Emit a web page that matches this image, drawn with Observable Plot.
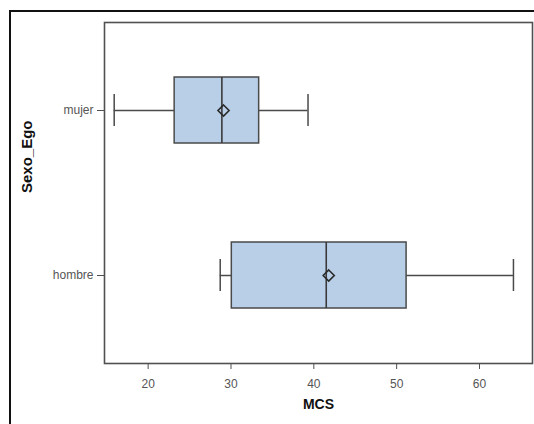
<!DOCTYPE html>
<html>
<head>
<meta charset="utf-8">
<script src="https://cdn.jsdelivr.net/npm/d3@7"></script>
<script src="https://cdn.jsdelivr.net/npm/@observablehq/plot@0.6"></script>
<style>
  html, body { margin: 0; padding: 0; background: #fff; overflow: hidden; }
  #wrap { position: relative; width: 534px; height: 424px; overflow: hidden; }
  #border { position: absolute; left: 9px; top: 10px; width: 700px; height: 700px;
            border-left: 2.5px solid #111; border-top: 2.5px solid #111; pointer-events: none; }
  #chart { position: absolute; left: 0; top: 0; }
  svg { font-family: "Liberation Sans", Arial, sans-serif; }
</style>
</head>
<body>
<div id="wrap">
  <div id="chart"></div>
  <div id="border"></div>
</div>
<script>
const categories = ["mujer", "hombre"];
const whiskerLow = [15.9, 28.7];
const q1 = [23.2, 30.1];
const median = [28.9, 41.5];
const mean = [29.1, 41.8];
const q3 = [33.4, 51.2];
const whiskerHigh = [39.3, 64.1];
const xTicks = [20, 30, 40, 50, 60];

const rows = categories.map((c, i) => ({
  cat: c, lo: whiskerLow[i], q1: q1[i], med: median[i], mean: mean[i], q3: q3[i], hi: whiskerHigh[i]
}));

const lineColor = "#4a4a4a";
const chart = Plot.plot({
  width: 534,
  height: 424,
  marginLeft: 104,
  marginRight: 2,
  marginTop: 22,
  marginBottom: 61,
  style: { fontFamily: "'Liberation Sans', Arial, sans-serif", fontSize: "12px", color: "#555", background: "transparent" },
  x: { domain: [14.73, 66.4], ticks: xTicks, label: null },
  y: { type: "band", domain: categories, paddingInner: 0.6, paddingOuter: 0.333, label: null },
  marks: [
    Plot.ruleY(rows, { y: "cat", x1: "lo", x2: "q1", stroke: lineColor, strokeWidth: 1.5 }),
    Plot.ruleY(rows, { y: "cat", x1: "q3", x2: "hi", stroke: lineColor, strokeWidth: 1.5 }),
    Plot.tickX(rows, { x: "lo", y: "cat", insetTop: 17, insetBottom: 17, stroke: lineColor, strokeWidth: 1.5 }),
    Plot.tickX(rows, { x: "hi", y: "cat", insetTop: 17, insetBottom: 17, stroke: lineColor, strokeWidth: 1.5 }),
    Plot.barX(rows, { y: "cat", x1: "q1", x2: "q3", fill: "#b9cfe8", stroke: lineColor, strokeWidth: 1.5 }),
    Plot.tickX(rows, { x: "med", y: "cat", stroke: "#3a3a3a", strokeWidth: 1.6 }),
    Plot.dot(rows, { x: "mean", y: "cat", symbol: "diamond2", r: 5, fill: "none", stroke: "#2a2a2a", strokeWidth: 1.6 }),
    Plot.frame({ stroke: "#505050", strokeWidth: 1.6 }),
    Plot.axisX({ ticks: xTicks, tickSize: 6, tickPadding: 10, stroke: "#505050", fill: "#555", label: null }),
    Plot.axisY({ tickSize: 7, tickPadding: 4, stroke: "#505050", fill: "#555", label: null }),
    Plot.text(["MCS"], { frameAnchor: "bottom", dy: 45, fontWeight: "bold", fontSize: 14, fill: "#111" }),
    Plot.text(["Sexo_Ego"], { frameAnchor: "left", dx: -77, rotate: -90, fontWeight: "bold", fontSize: 15, fill: "#111" })
  ]
});
document.getElementById("chart").appendChild(chart);
</script>
</body>
</html>
